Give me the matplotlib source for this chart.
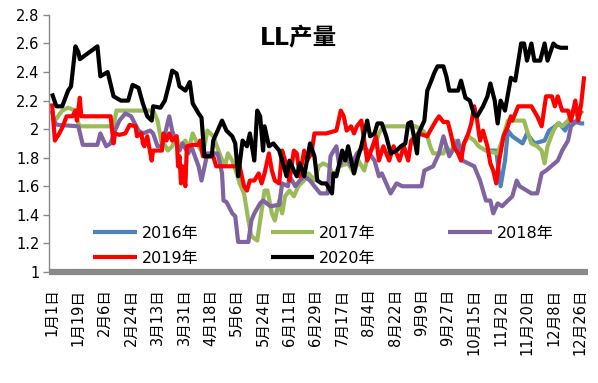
import matplotlib
matplotlib.use("Agg")
import matplotlib.pyplot as plt
import numpy as np

plt.rcParams['font.family'] = ['DejaVu Sans', 'Noto Sans CJK SC']

# x tick labels (days from Jan 1, every 18 days)
tick_days = [0, 18, 36, 54, 72, 90, 108, 126, 144, 162, 180, 198, 216, 234, 252, 270, 288, 306, 324, 342, 360]
tick_labels = ["1月1日", "1月19日", "2月6日", "2月24日", "3月13日", "3月31日", "4月18日", "5月6日",
               "5月24日", "6月11日", "6月29日", "7月17日", "8月4日", "8月22日", "9月9日", "9月27日",
               "10月15日", "11月2日", "11月20日", "12月8日", "12月26日"]

# 2016
d2016 = [296, 303, 306, 309, 311, 314, 321, 324, 329, 336, 339, 346, 350, 353, 361, 363]
v2016 = [1.85, 1.85, 1.60, 1.78, 1.99, 1.95, 1.90, 1.97, 1.90, 1.92, 1.99, 2.04, 1.99, 2.06, 2.04, 2.04]

# 2017
d2017 = [0, 2, 7, 11, 16, 18, 19, 42, 44, 69, 72, 75, 77, 79, 82, 85, 87, 91, 93, 96, 100, 103, 106, 110,
         115, 118, 120, 123, 126, 128, 131, 134, 136, 140, 142, 145, 147, 150, 152, 155, 157, 159, 162, 165,
         168, 172, 175, 179, 182, 185, 189, 192, 196, 202, 206, 209, 213, 216, 220, 223, 226, 248, 253, 256,
         258, 260, 267, 269, 272, 275, 277, 284, 288, 291, 296, 304, 307, 311, 322, 324, 327, 331, 334, 336,
         338, 342, 345, 348, 352, 355, 359, 362]
v2017 = [2.08, 2.06, 2.13, 2.15, 2.13, 2.04, 2.02, 2.02, 2.13, 2.13, 2.06, 1.89, 1.89, 1.85, 1.88, 1.95,
         1.88, 1.92, 1.85, 1.97, 1.88, 1.83, 1.99, 1.95, 1.81, 1.74, 1.83, 1.78, 1.69, 1.62, 1.55, 1.36,
         1.25, 1.22, 1.36, 1.57, 1.57, 1.41, 1.36, 1.50, 1.41, 1.53, 1.57, 1.53, 1.60, 1.64, 1.69, 1.64,
         1.74, 1.76, 1.74, 1.67, 1.74, 1.76, 1.69, 1.78, 1.71, 1.83, 1.88, 1.97, 2.02, 2.02, 1.99, 1.95,
         1.88, 1.83, 1.83, 1.88, 1.83, 1.92, 1.83, 1.95, 1.92, 1.88, 1.85, 1.83, 1.92, 2.06, 2.06, 1.99,
         1.90, 1.88, 1.85, 1.76, 1.88, 1.99, 2.04, 2.02, 2.06, 2.13, 2.09, 2.13]

# 2018
d2018 = [0, 2, 4, 18, 21, 31, 33, 37, 40, 43, 46, 50, 54, 59, 62, 67, 69, 72, 75, 80, 82, 85, 87, 89, 93,
         95, 100, 102, 106, 113, 116, 117, 119, 123, 125, 127, 134, 136, 138, 142, 144, 149, 155, 157, 161,
         162, 166, 169, 172, 176, 179, 183, 188, 190, 191, 194, 196, 198, 200, 204, 208, 213, 220, 223, 225,
         228, 231, 235, 239, 252, 254, 260, 264, 267, 271, 277, 280, 288, 292, 296, 299, 301, 304, 307, 311,
         314, 317, 319, 327, 331, 334, 337, 345, 348, 352, 354, 358, 361]
v2018 = [2.13, 2.04, 2.03, 2.02, 1.89, 1.89, 1.97, 1.88, 1.90, 1.99, 2.06, 2.11, 2.09, 1.99, 1.97, 1.99,
         1.97, 1.88, 1.88, 2.09, 1.99, 1.90, 1.85, 1.90, 1.83, 1.88, 1.74, 1.64, 1.83, 1.83, 1.69, 1.50,
         1.49, 1.41, 1.39, 1.21, 1.21, 1.36, 1.41, 1.48, 1.50, 1.46, 1.47, 1.62, 1.60, 1.67, 1.60, 1.64,
         1.67, 1.64, 1.60, 1.55, 1.55, 1.81, 1.83, 1.88, 1.74, 1.78, 1.83, 1.74, 1.83, 1.88, 1.78, 1.67,
         1.69, 1.62, 1.55, 1.62, 1.60, 1.60, 1.71, 1.74, 1.83, 1.95, 1.81, 1.92, 1.78, 1.74, 1.64, 1.50,
         1.50, 1.41, 1.48, 1.46, 1.50, 1.53, 1.64, 1.60, 1.55, 1.55, 1.69, 1.71, 1.78, 1.85, 1.92, 2.02,
         2.06, 2.13]

# 2019
d2019 = [0, 2, 5, 7, 10, 14, 16, 17, 19, 20, 40, 42, 43, 46, 50, 53, 57, 58, 61, 62, 63, 65, 68, 69, 75,
         76, 78, 80, 82, 85, 86, 87, 88, 89, 91, 92, 96, 100, 101, 103, 110, 112, 125, 128, 131, 133, 135,
         138, 141, 143, 145, 148, 150, 152, 155, 157, 159, 162, 165, 167, 169, 172, 174, 177, 179, 187, 194,
         197, 199, 201, 204, 206, 208, 211, 213, 215, 217, 221, 223, 226, 230, 233, 237, 240, 243, 245, 250,
         256, 258, 262, 264, 267, 270, 272, 274, 277, 279, 281, 284, 286, 288, 290, 292, 294, 297, 299, 301,
         303, 305, 308, 311, 313, 314, 318, 327, 331, 334, 337, 341, 343, 345, 348, 352, 354, 357, 359, 361,
         363]
v2019 = [2.18, 1.92, 1.97, 2.01, 2.09, 2.09, 2.13, 2.06, 2.22, 2.09, 2.09, 1.90, 1.97, 1.96, 1.97, 2.03,
         2.02, 1.95, 1.97, 1.90, 1.88, 1.95, 1.78, 1.85, 1.85, 1.97, 1.92, 1.97, 1.92, 1.95, 1.74, 1.81,
         1.62, 1.74, 1.60, 1.88, 1.89, 1.89, 1.92, 1.81, 1.81, 1.74, 1.74, 1.74, 1.60, 1.57, 1.64, 1.64,
         1.69, 1.62, 1.69, 1.83, 1.71, 1.64, 1.62, 1.85, 1.78, 1.64, 1.85, 1.83, 1.67, 1.85, 1.78, 1.83,
         1.97, 1.97, 1.99, 2.13, 2.09, 1.99, 2.02, 1.97, 2.02, 2.06, 1.92, 1.78, 1.83, 1.95, 1.78, 1.88,
         1.78, 1.88, 1.78, 1.88, 1.78, 1.92, 1.97, 1.95, 1.99, 2.06, 2.09, 2.05, 2.05, 1.97, 1.88, 1.83,
         1.78, 1.90, 1.97, 2.04, 2.16, 2.06, 1.92, 1.99, 1.88, 1.76, 1.71, 1.62, 1.78, 1.95, 2.02, 2.09,
         2.06, 2.16, 2.16, 2.09, 2.02, 2.23, 2.23, 2.16, 2.23, 2.13, 2.13, 2.06, 2.20, 2.06, 2.18, 2.37]

# 2020
d2020 = [0, 3, 7, 11, 13, 16, 18, 19, 31, 33, 38, 42, 47, 52, 55, 59, 62, 65, 68, 69, 74, 77, 80, 82, 85,
         87, 91, 94, 96, 100, 102, 104, 109, 110, 113, 116, 119, 123, 125, 127, 130, 133, 135, 138, 140, 142,
         144, 145, 148, 151, 155, 157, 160, 162, 165, 167, 169, 172, 176, 179, 181, 184, 187, 191, 192, 194,
         198, 200, 202, 206, 208, 211, 215, 217, 220, 222, 225, 228, 231, 235, 238, 241, 243, 245, 249, 250,
         254, 256, 258, 261, 263, 267, 269, 271, 277, 279, 282, 285, 288, 290, 294, 297, 299, 302, 304, 306,
         309, 313, 316, 320, 322, 324, 327, 329, 333, 336, 338, 342, 344, 347, 352]
v2020 = [2.25, 2.16, 2.16, 2.27, 2.30, 2.58, 2.54, 2.49, 2.58, 2.37, 2.40, 2.23, 2.20, 2.20, 2.31, 2.29,
         2.18, 2.09, 2.06, 2.16, 2.15, 2.20, 2.32, 2.41, 2.39, 2.30, 2.27, 2.33, 2.18, 2.11, 2.08, 1.81,
         1.81, 1.92, 1.99, 2.06, 1.99, 1.95, 1.90, 1.67, 1.92, 1.88, 1.97, 1.78, 2.13, 2.09, 1.85, 2.02,
         1.88, 1.90, 1.85, 1.78, 1.67, 1.78, 1.71, 1.67, 1.76, 1.67, 1.90, 1.81, 1.64, 1.62, 1.62, 1.55,
         1.69, 1.67, 1.85, 1.78, 1.88, 1.69, 1.78, 1.88, 2.06, 1.95, 1.97, 2.04, 2.04, 1.95, 1.83, 1.85,
         1.88, 1.90, 2.04, 2.05, 1.83, 1.97, 2.06, 2.27, 2.32, 2.40, 2.44, 2.44, 2.37, 2.27, 2.27, 2.34,
         2.22, 2.20, 2.10, 2.09, 2.16, 2.23, 2.32, 2.20, 2.04, 2.20, 2.13, 2.36, 2.34, 2.60, 2.60, 2.48,
         2.60, 2.48, 2.48, 2.60, 2.48, 2.60, 2.58, 2.57, 2.57]

series = [
    ("2016年", d2016, v2016, "#4F81BD"),
    ("2017年", d2017, v2017, "#9BBB59"),
    ("2018年", d2018, v2018, "#8064A2"),
    ("2019年", d2019, v2019, "#FF0000"),
    ("2020年", d2020, v2020, "#000000"),
]

fig = plt.figure(figsize=(5.98, 3.83), dpi=100)
ax = fig.add_axes([0.082, 0.290, 0.901, 0.671])

lines = []
for name, d, v, c in series:
    ln, = ax.plot(d, v, color=c, lw=3.0, label=name, solid_joinstyle='round', solid_capstyle='butt')
    lines.append(ln)

ax.set_xlim(-2, 365.5)
ax.set_ylim(1.0, 2.8)
ax.set_yticks(np.arange(1.0, 2.81, 0.2))
ax.set_yticklabels(["1", "1.2", "1.4", "1.6", "1.8", "2", "2.2", "2.4", "2.6", "2.8"], fontsize=10.5)
ax.set_xticks(tick_days)
ax.set_xticklabels(tick_labels, rotation=90, fontsize=10.5)
ax.tick_params(axis='x', length=0, pad=12)
ax.tick_params(axis='y', length=4, width=1, color='#898989', pad=3)

for s in ['top', 'right']:
    ax.spines[s].set_visible(False)
ax.spines['left'].set_color('#898989')
ax.spines['left'].set_linewidth(1.0)
ax.spines['bottom'].set_color('#898989')
ax.spines['bottom'].set_linewidth(4.5)
ax.spines['bottom'].set_capstyle('butt')

fig.text(0.50, 0.90, "LL产量", ha='center', va='center', fontsize=17, fontweight='bold')

# row-major legend order: (2016, 2017, 2018) / (2019, 2020)
order = [0, 3, 1, 4, 2]
leg = ax.legend(handles=[lines[i] for i in order], ncol=3, loc='upper left',
                bbox_to_anchor=(0.156, 0.41),
                bbox_transform=fig.transFigure, frameon=False, fontsize=11.5,
                handlelength=2.75, handletextpad=0.3, columnspacing=4.5, labelspacing=0.6,
                borderpad=0, borderaxespad=0)

fig.savefig("out.png", dpi=100)
